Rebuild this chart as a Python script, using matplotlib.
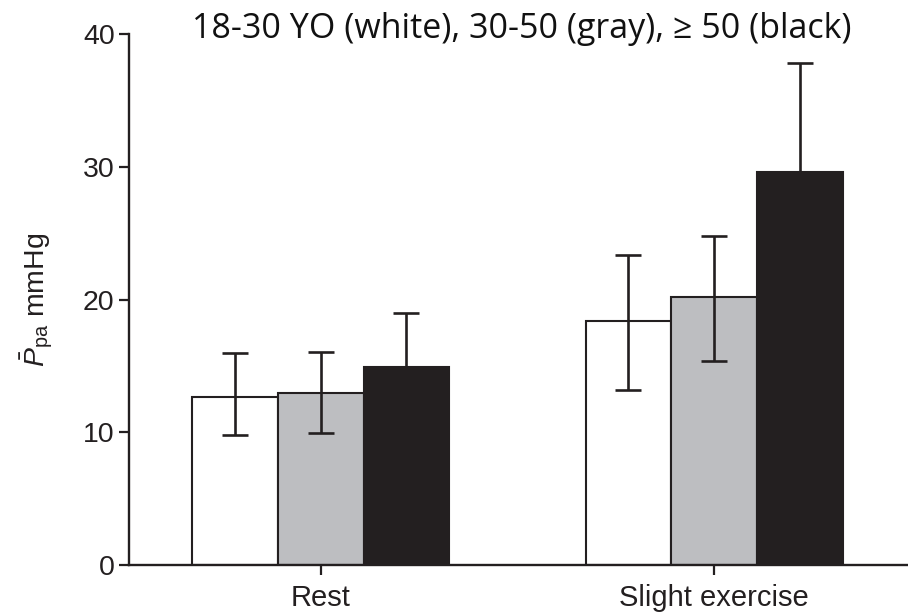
import numpy as np
import matplotlib
matplotlib.use("Agg")
import matplotlib.pyplot as plt

plt.rcParams['font.family'] = ['Liberation Sans', 'DejaVu Sans']
plt.rcParams['mathtext.fontset'] = 'custom'
plt.rcParams['mathtext.rm'] = 'Liberation Sans'
plt.rcParams['mathtext.it'] = 'Liberation Sans:italic'

# Mean pulmonary artery pressure by age group
conditions = ["Rest", "Slight exercise"]
age_groups = ["18-30", "30-50", "\u2265 50"]
mean_ppa = {
    "18-30": [12.7, 18.4],
    "30-50": [13.0, 20.2],
    "\u2265 50": [14.9, 29.6],
}
err_low = {
    "18-30": [2.9, 5.2],
    "30-50": [3.05, 4.8],
    "\u2265 50": [4.1, 8.2],
}
err_high = {
    "18-30": [3.3, 5.0],
    "30-50": [3.05, 4.6],
    "\u2265 50": [4.1, 8.2],
}
fill_colors = ["#FFFFFF", "#BDBEC1", "#231F20"]
y_ticks = [0, 10, 20, 30, 40]

ink = "#231F20"
fig = plt.figure(figsize=(9.08, 6.13), dpi=100)
ax = fig.add_axes([0.1424, 0.0778, 0.8576, 0.8667])

x = np.arange(len(conditions))
width = 0.218
offsets = [-width, 0, width]
for grp, off, col in zip(age_groups, offsets, fill_colors):
    ax.bar(x + off, mean_ppa[grp], width=width, color=col, edgecolor=ink,
           linewidth=1.5, zorder=2)
    ax.errorbar(x + off, mean_ppa[grp], yerr=[err_low[grp], err_high[grp]],
                fmt='none', ecolor=ink, elinewidth=1.9, capsize=9.6,
                capthick=1.9, zorder=3)

ax.set_xlim(-0.486, 1.492)
ax.set_ylim(0, 40)
ax.set_xticks(x)
ax.set_xticklabels(conditions, fontsize=21)
ax.set_yticks(y_ticks)
ax.set_yticklabels([str(t) for t in y_ticks], fontsize=20.5)
ax.tick_params(axis='both', direction='out', length=7.5, width=1.6,
               color=ink, labelcolor=ink)
ax.tick_params(axis='x', pad=6)
ax.tick_params(axis='y', pad=3)
for side in ("top", "right"):
    ax.spines[side].set_visible(False)
for side in ("left", "bottom"):
    ax.spines[side].set_linewidth(1.7)
    ax.spines[side].set_color(ink)

ax.set_ylabel(r'$\bar{P}_{\mathrm{pa}}$ mmHg', fontsize=20.5, color=ink, labelpad=20)

fig.text(0.575, 0.952, "18-30 YO (white), 30-50 (gray), \u2265 50 (black)",
         fontsize=24.5, family=['Open Sans', 'DejaVu Sans'], color="#111111",
         ha='center', va='center')

fig.savefig("out.png", dpi=100)
